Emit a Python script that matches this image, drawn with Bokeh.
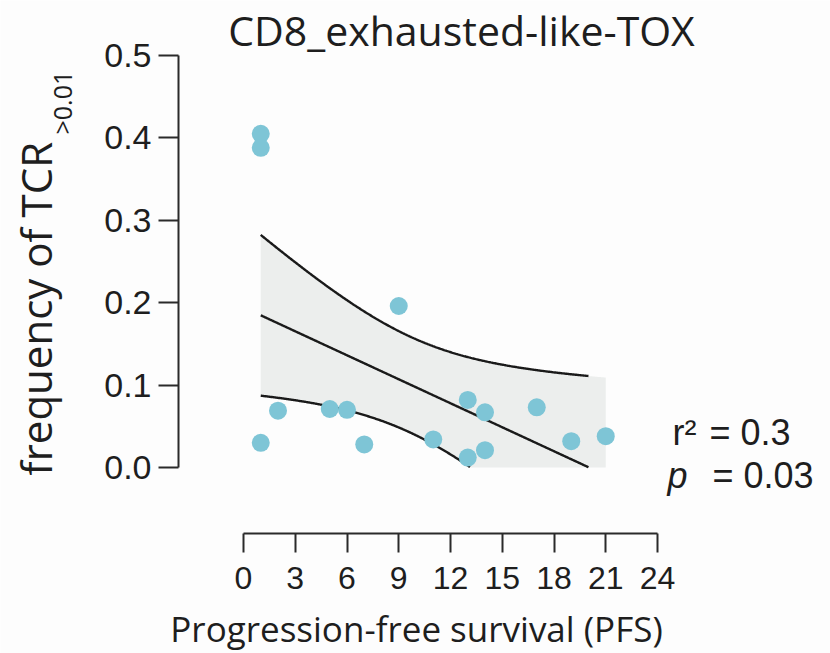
import numpy as np
from bokeh.plotting import figure
from bokeh.models import Range1d, FixedTicker, PrintfTickFormatter, Label
from bokeh.embed import file_html
from bokeh.resources import INLINE

# ---------------- data ----------------
pfs = [1, 1, 9, 2, 5, 6, 1, 7, 11, 13, 14, 13, 14, 17, 19, 21]
freq = [0.405, 0.388, 0.196, 0.069, 0.071, 0.070, 0.030, 0.028, 0.034,
        0.082, 0.067, 0.012, 0.021, 0.073, 0.032, 0.038]
x_ticks = [0, 3, 6, 9, 12, 15, 18, 21, 24]
y_ticks = [0.0, 0.1, 0.2, 0.3, 0.4, 0.5]
title_text = "CD8_exhausted-like-TOX"
x_label = "Progression-free survival (PFS)"
y_label_main = "frequency of TCR"
y_label_sub = ">0.01"
r2_lhs = "r\u00b2"
r2_rhs = "= 0.3"
p_lhs = "p"
p_rhs = "= 0.03"
T_CRIT = 2.1448          # Student t, 0.975 quantile, df = 14
UPPER_CURVE_END = 20     # upper CI line drawn up to this PFS

# ---------------- regression + 95% CI ----------------
x = np.array(pfs, float)
y = np.array(freq, float)
n = len(x)
slope, intercept = np.polyfit(x, y, 1)
resid = y - (intercept + slope * x)
s = np.sqrt(np.sum(resid ** 2) / (n - 2))
xm = x.mean()
sxx = np.sum((x - xm) ** 2)
xs = np.linspace(x.min(), x.max(), 400)
fit = intercept + slope * xs
hw = T_CRIT * s * np.sqrt(1.0 / n + (xs - xm) ** 2 / sxx)
lo = fit - hw
hi = fit + hw

# ---------------- geometry: frame = whole canvas ----------------
W, H = 830, 653
PX_X0, PX_PER_X = 243.0, 17.25      # pixel of PFS 0, pixels per month
PX_Y0, PX_PER_Y = 467.0, 824.0      # pixel of freq 0, pixels per unit


def dx(px):
    return (px - PX_X0) / PX_PER_X


def dy(py):
    return (PX_Y0 - py) / PX_PER_Y


p = figure(width=W, height=H, output_backend="svg", toolbar_location=None,
           x_range=Range1d(dx(0), dx(W)), y_range=Range1d(dy(H), dy(0)),
           min_border=0, title_location=None)
p.background_fill_color = "#fdfdfd"
p.border_fill_color = "#fdfdfd"
p.outline_line_color = None
p.xgrid.visible = False
p.ygrid.visible = False

AX = "#2a2a2a"
for ax in (p.xaxis[0], p.yaxis[0]):
    ax.axis_line_width = 2
    ax.axis_line_color = AX
    ax.major_tick_line_width = 2
    ax.major_tick_line_color = AX
    ax.minor_tick_line_color = None
    ax.major_tick_in = 0
    ax.major_label_text_font = "Liberation Sans"
    ax.major_label_text_color = "#1e1e1e"

p.xaxis.fixed_location = dy(533)
p.xaxis.ticker = FixedTicker(ticks=x_ticks)
p.xaxis.bounds = (x_ticks[0], x_ticks[-1])
p.xaxis.major_tick_out = 19
p.xaxis.major_label_standoff = 14
p.xaxis.major_label_text_font_size = "32px"

p.yaxis.fixed_location = dx(178)
p.yaxis.ticker = FixedTicker(ticks=y_ticks)
p.yaxis.bounds = (y_ticks[0], y_ticks[-1])
p.yaxis.formatter = PrintfTickFormatter(format="%.1f")
p.yaxis.major_tick_out = 20
p.yaxis.major_label_standoff = 7
p.yaxis.major_label_text_font_size = "34px"

# ---------------- marks ----------------
LINE = "#1a1a1a"
p.varea(x=xs, y1=np.maximum(lo, 0), y2=hi, fill_color="#eceeed")
m_up = xs <= UPPER_CURVE_END
p.line(xs[m_up], hi[m_up], line_color=LINE, line_width=2.4)
m_fit = fit >= 0
p.line(xs[m_fit], fit[m_fit], line_color=LINE, line_width=2.4)
m_lo = lo >= 0
p.line(xs[m_lo], lo[m_lo], line_color=LINE, line_width=2.4)
p.scatter(x=pfs, y=freq, size=18, fill_color="#7ec5d6", line_color=None)

# ---------------- texts ----------------
TXT = "#1e1e1e"
SHIFT = 0.4   # empirical baseline correction (fraction of font size)


def label(px, py, text, font, size, align="left", rotated=False, style="normal"):
    if rotated:
        px = px - SHIFT * size
        angle = np.pi / 2
    else:
        py = py - SHIFT * size
        angle = 0.0
    p.add_layout(Label(x=dx(px), y=dy(py), text=text, text_align=align,
                       text_baseline="alphabetic", text_font=font,
                       text_font_size=f"{size}px", text_font_style=style,
                       angle=angle, text_color=TXT))


label(461, 46, title_text, "Open Sans", 41, align="center")
label(416, 642, x_label, "Open Sans", 35, align="center")
label(52, 475, y_label_main, "Open Sans", 42, rotated=True)
label(71, 134, y_label_sub, "Open Sans", 25, rotated=True)
label(672, 446, r2_lhs, "Liberation Sans", 36)
label(709, 446, r2_rhs, "Liberation Sans", 36)
label(667, 489, p_lhs, "Liberation Sans", 36, style="italic")
label(712, 489, p_rhs, "Liberation Sans", 36)

open("out.html", "w").write(file_html(p, INLINE))
